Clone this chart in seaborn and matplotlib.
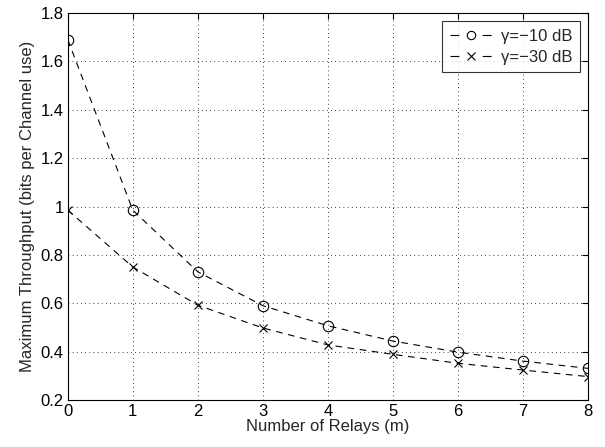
import matplotlib
matplotlib.use("Agg")
import matplotlib.pyplot as plt
import seaborn as sns
import pandas as pd

relays = [0, 1, 2, 3, 4, 5, 6, 7, 8]
thr_m10 = [1.69, 0.985, 0.73, 0.59, 0.507, 0.444, 0.398, 0.361, 0.331]
thr_m30 = [0.985, 0.75, 0.592, 0.498, 0.428, 0.389, 0.352, 0.324, 0.297]
labels = ["\u03b3=\u221210 dB", "\u03b3=\u221230 dB"]
xticks = [0, 1, 2, 3, 4, 5, 6, 7, 8]
yticks = [0.2, 0.4, 0.6, 0.8, 1.0, 1.2, 1.4, 1.6, 1.8]

sns.set_style("white")
plt.rcParams['font.family'] = ['Liberation Sans', 'DejaVu Sans']
plt.rcParams['axes.unicode_minus'] = True

FS = 12
fig = plt.figure(figsize=(6.05, 4.47), dpi=100)
ax = fig.add_axes([0.112, 0.105, 0.86, 0.866])

df1 = pd.DataFrame({"x": relays, "y": thr_m10})
df2 = pd.DataFrame({"x": relays, "y": thr_m30})
sns.lineplot(data=df1, x="x", y="y", ax=ax, color="black", linestyle=(0, (6, 5)),
             linewidth=0.8, marker="o", markersize=7.5, markerfacecolor="none",
             markeredgecolor="black", markeredgewidth=0.8, label=labels[0])
sns.lineplot(data=df2, x="x", y="y", ax=ax, color="black", linestyle=(0, (6, 5)),
             linewidth=0.8, marker="x", markersize=6, markeredgecolor="black",
             markeredgewidth=0.8, label=labels[1])

ax.set_xlim(0, 8)
ax.set_ylim(0.2, 1.8)
ax.set_xticks(xticks)
ax.set_xticklabels([str(v) for v in xticks])
ax.set_yticks(yticks)
ax.set_yticklabels([("%g" % v) for v in yticks])
ax.grid(True, linestyle=(0, (1, 4)), color="black", linewidth=0.6)
ax.tick_params(direction="in", length=4, width=0.8, top=True, right=True,
               labelsize=FS, colors="black", pad=3)
for s in ax.spines.values():
    s.set_color("black")
    s.set_linewidth(0.8)
ax.set_xlabel("Number of Relays (m)", fontsize=FS, labelpad=0)
ax.set_ylabel("Maximum Throughput (bits per Channel use)", fontsize=FS, labelpad=4)

leg = ax.legend(loc="upper right", frameon=True, fancybox=False, fontsize=FS,
                handlelength=2.6, handletextpad=0.5, borderpad=0.45, labelspacing=0.35,
                bbox_to_anchor=(0.985, 0.978), borderaxespad=0.0)
leg.get_frame().set_edgecolor("black")
leg.get_frame().set_linewidth(0.8)
for h in leg.legend_handles:
    h.set_markersize(6)
    h.set_linestyle((0, (8, 21)))

fig.savefig("out.png", dpi=100)
